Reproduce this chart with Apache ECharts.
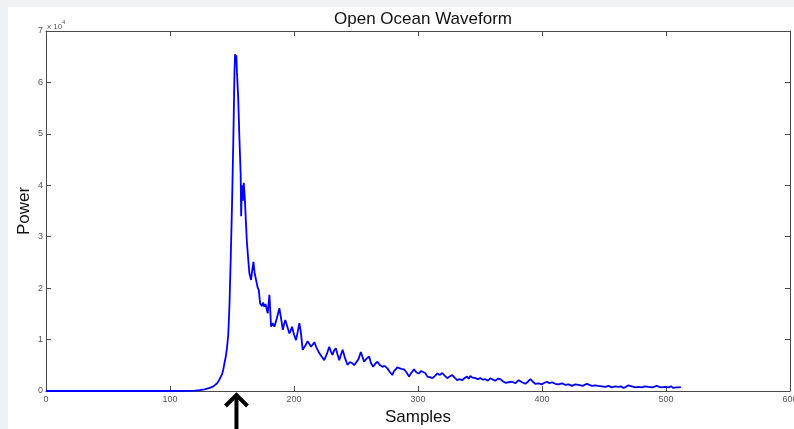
<!DOCTYPE html>
<html>
<head>
<meta charset="utf-8">
<script src="https://cdn.jsdelivr.net/npm/echarts@6/dist/echarts.min.js"></script>
<style>
html,body{margin:0;padding:0;background:#f0f1f3;}
#c{width:794px;height:429px;}
</style>
</head>
<body>
<div id="c"></div>
<script>
const titleText = 'Open Ocean Waveform';
const xName = 'Samples';
const yName = 'Power';
const xTicks = [0, 100, 200, 300, 400, 500, 600];
const yTicks = [0, 1, 2, 3, 4, 5, 6, 7];
const yScale = 10000;
const arrowSample = 153.6;

const samples = [0,100,115,120,124,128,132,135,138,140,142,143,144,145,146,147,148,149,150,151,152,152.5,153,153.5,154,155,156,157,157.4,157.8,158.3,158.8,159.5,160.2,161,162,162.7,164,165.4,166.3,167.3,168.2,169.4,170.5,171.6,172.7,174,175,176,177,178.8,180.2,181.5,182.8,184.2,186,188.2,189.5,191,192,193,194.5,196.3,197.4,198.4,200,201.6,203,204.3,205.5,207,208.3,209.5,211,212.3,213.7,215,216.4,218,219.9,222,224.4,226.5,228.4,229.7,231,232.4,233.8,235,236.5,237.8,239.2,241,243.1,245,247.1,248.5,249.8,252,253.9,255,256.5,258.5,260.6,262,263.8,265.5,267.3,269,271.3,273,275.3,277,279.3,280.5,282,283.3,284.7,286.5,288.7,290.5,292.8,294.5,296.8,298.8,300.8,302.5,304,305.8,307.6,309.5,311.6,313.5,315.6,317.5,319.6,321.5,323.6,325.5,327.6,329.5,331.6,333.5,335.6,337.5,339.6,341,342.3,344,346.3,348.3,350.3,352.4,354.4,356.4,358.4,360.4,362.4,364.4,366.4,368.4,370.5,373,375.8,378.5,381.2,383.9,386.6,388.6,390.6,392.6,394.6,397.3,400,402,404,406,408,410.7,413.4,416,418.8,421.5,424.1,426.8,429.5,432.8,436.2,438.2,440.2,443,445.6,448.3,451,453.6,456.3,459,461.7,463.7,465.7,467.7,469.7,472.4,475.1,477.8,480.4,483.1,485.8,489,492.5,494.5,496.5,499.2,501.9,504,505.9,508,510,512];

const power = [0,0,30,60,150,300,600,900,1500,2300,3300,4200,5500,6700,8500,11000,17000,26000,36000,48000,62000,65500,64000,65300,62000,57000,49000,42000,34000,38000,40000,37000,40500,38000,34000,29000,26800,22900,21600,23500,25100,23000,21600,20300,19600,17000,16500,17200,16400,16900,15100,18700,12500,13200,12500,14000,16100,14200,11900,13000,13800,12600,11200,11800,12500,11000,9900,11500,13200,11500,8000,8200,9000,9700,9200,8600,9000,9500,8500,7600,6800,6000,7200,8600,7700,7000,7900,8300,7200,6000,7000,8000,6500,5100,5600,5400,5000,4700,6200,7600,6800,5700,6300,6700,5500,4700,5300,5700,5100,4700,4900,4400,3800,3100,3800,4200,4600,4700,4300,4200,3700,2800,3500,4200,3600,3400,3900,4100,3500,2800,2700,2500,2900,3400,3100,3500,3000,2500,2800,3100,2600,2100,2300,2100,2500,2800,2400,2900,2600,2500,2300,2500,2200,2300,2000,2500,2200,2000,2400,2300,1900,1600,1700,1800,1500,2100,1700,1400,1800,2300,1800,1400,1500,1300,1600,1800,1500,1700,1400,1300,1500,1200,1300,1000,1300,1200,1000,1400,1200,1000,1100,1000,900,800,1000,700,900,800,900,600,800,1100,900,700,800,700,900,800,700,1000,800,700,800,700,900,600,700,700,750];

const seriesData = samples.map((s, i) => [s, power[i]]);

const chart = echarts.init(document.getElementById('c'), null, {renderer: 'canvas'});
const FONT = 'Liberation Sans, Arial, sans-serif';
const axisCol = '#4a4a4a';
const labelCol = '#555555';

const baseX = {
  type: 'value', min: xTicks[0], max: xTicks[xTicks.length - 1], interval: 100,
  splitLine: {show: false},
  axisLine: {show: true, onZero: false, lineStyle: {color: axisCol, width: 1}},
  axisTick: {show: true, inside: true, length: 5, lineStyle: {color: axisCol}},
};
const baseY = {
  type: 'value', min: 0, max: yTicks[yTicks.length - 1] * yScale, interval: yScale,
  splitLine: {show: false},
  axisLine: {show: true, onZero: false, lineStyle: {color: axisCol, width: 1}},
  axisTick: {show: true, inside: true, length: 5, lineStyle: {color: axisCol}},
};

chart.setOption({
  backgroundColor: '#f0f1f3',
  animation: false,
  title: {
    text: titleText, left: 418, top: 6, textAlign: 'center',
    textStyle: {fontFamily: FONT, fontSize: 17, fontWeight: 'normal', color: '#111'}
  },
  grid: {left: 46, right: 4, top: 31, bottom: 38, containLabel: false, outerBoundsMode: 'none'},
  xAxis: [
    Object.assign({}, baseX, {
      position: 'bottom',
      axisLabel: {show: true, fontSize: 9, color: labelCol, fontFamily: FONT, margin: 4},
      name: xName, nameLocation: 'middle', nameGap: 18, nameMoveOverlap: false,
      nameTextStyle: {fontFamily: FONT, fontSize: 17, color: '#111'}
    }),
    Object.assign({}, baseX, {position: 'top', axisLabel: {show: false}})
  ],
  yAxis: [
    Object.assign({}, baseY, {
      position: 'left',
      axisLabel: {show: true, fontSize: 9, color: labelCol, fontFamily: FONT, margin: 3,
        formatter: v => String(v / yScale)},
      name: yName, nameLocation: 'middle', nameGap: 13, nameMoveOverlap: false,
      nameTextStyle: {fontFamily: FONT, fontSize: 17, color: '#111'}
    }),
    Object.assign({}, baseY, {position: 'right', axisLabel: {show: false}})
  ],
  series: [{
    type: 'line', xAxisIndex: 0, yAxisIndex: 0,
    data: seriesData, showSymbol: false, symbol: 'none',
    lineStyle: {color: '#0000ff', width: 1.8}, smooth: false, z: 5
  }]
});

const ax = chart.convertToPixel({xAxisIndex: 0}, arrowSample);
const y0 = chart.convertToPixel({yAxisIndex: 0}, 0);
const x0 = chart.convertToPixel({xAxisIndex: 0}, 0);
const y7 = chart.convertToPixel({yAxisIndex: 0}, yTicks[yTicks.length - 1] * yScale);

chart.setOption({
  graphic: [
    {type: 'rect', shape: {x: 8, y: 7, width: 794, height: 429}, style: {fill: '#ffffff'}, z: -10, silent: true},
    {type: 'text', x: x0 + 1, y: y7 - 12,
      style: {text: '{a|x 10}{b|4}', rich: {
        a: {fontSize: 8, fontFamily: FONT, fill: labelCol, verticalAlign: 'bottom'},
        b: {fontSize: 6, fontFamily: FONT, fill: labelCol, padding: [0, 0, 6, 0]}
      }}, z: 10},
    {type: 'polyline', shape: {points: [[ax, y0 + 4], [ax, 429]]}, style: {stroke: '#000', lineWidth: 4, fill: null}, z: 10},
    {type: 'polyline', shape: {points: [[ax - 11, y0 + 15], [ax, y0 + 4], [ax + 11, y0 + 15]]},
      style: {stroke: '#000', lineWidth: 4, fill: null, lineJoin: 'miter'}, z: 10}
  ]
});
</script>
</body>
</html>
